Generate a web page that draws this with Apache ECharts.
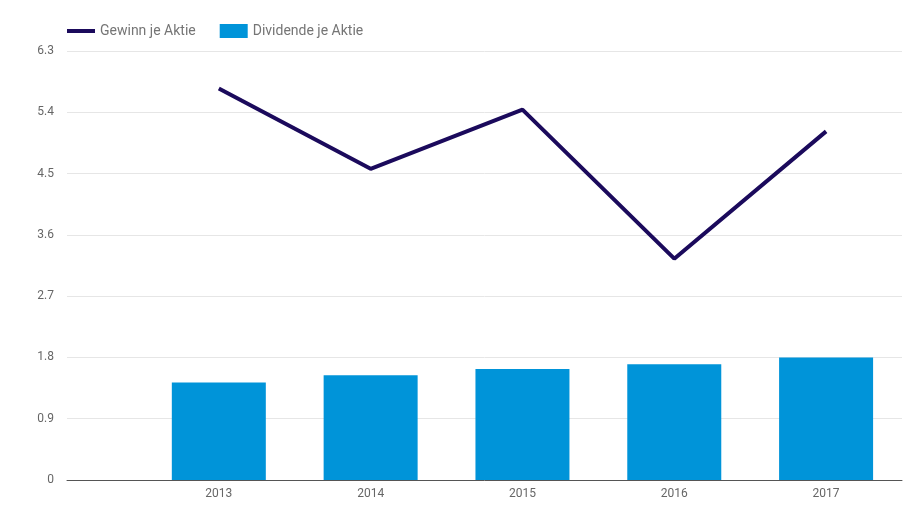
<!DOCTYPE html>
<html>
<head>
<meta charset="utf-8">
<script src="https://cdn.jsdelivr.net/npm/echarts@6/dist/echarts.min.js"></script>
<style>html,body{margin:0;padding:0;background:#fff}#c{width:924px;height:511px}</style>
</head>
<body>
<div id="c"></div>
<script>
const years = [2013, 2014, 2015, 2016, 2017];
const gewinn = [5.75, 4.57, 5.44, 3.25, 5.12];
const dividende = [1.43, 1.54, 1.63, 1.70, 1.80];
const yTicks = [0, 0.9, 1.8, 2.7, 3.6, 4.5, 5.4, 6.3];

const chart = echarts.init(document.getElementById('c'));
chart.setOption({
  animation: false,
  textStyle: { fontFamily: 'Roboto' },
  legend: {
    left: 62, top: 19,
    itemWidth: 28, itemHeight: 14, itemGap: 24,
    textStyle: { color: '#757575', fontSize: 14, fontFamily: 'Roboto' },
    data: [
      { name: 'Gewinn je Aktie', icon: 'path://M0,0L28,0L28,4L0,4Z' },
      { name: 'Dividende je Aktie', icon: 'rect' }
    ]
  },
  grid: { left: 67, right: 22, top: 51, bottom: 31 },
  xAxis: {
    type: 'value', min: years[0] - 1, max: years[years.length - 1] + 0.5, interval: 1,
    splitLine: { show: false },
    axisTick: { show: false },
    axisLine: { show: true, lineStyle: { color: '#555', width: 1 } },
    axisLabel: {
      color: '#666', fontSize: 12, margin: 8,
      formatter: v => years.indexOf(v) >= 0 ? String(v) : ''
    }
  },
  yAxis: {
    type: 'value', min: yTicks[0], max: yTicks[yTicks.length - 1], interval: 0.9,
    axisLine: { show: false }, axisTick: { show: false },
    splitLine: { lineStyle: { color: '#e6e6e6' } },
    axisLabel: { color: '#666', fontSize: 12, margin: 13, formatter: v => String(+v.toFixed(1)) }
  },
  series: [
    {
      name: 'Gewinn je Aktie', type: 'line', symbol: 'none', z: 3,
      lineStyle: { color: '#1b0a5c', width: 4 }, itemStyle: { color: '#1b0a5c' },
      data: years.map((y, i) => [y, gewinn[i]])
    },
    {
      name: 'Dividende je Aktie', type: 'bar', barWidth: 94, z: 2,
      itemStyle: { color: '#0094d9' },
      data: years.map((y, i) => [y, dividende[i]])
    }
  ]
});
</script>
</body>
</html>
